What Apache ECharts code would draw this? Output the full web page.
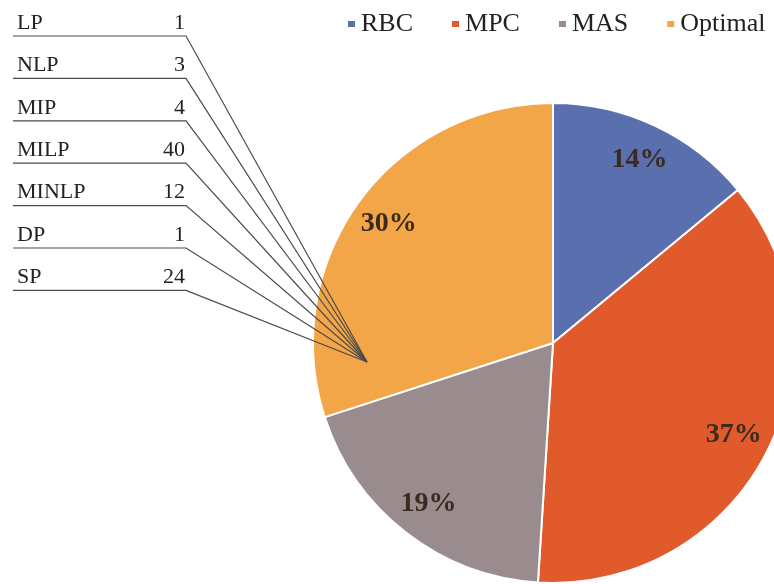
<!DOCTYPE html>
<html>
<head>
<meta charset="utf-8">
<script src="https://cdn.jsdelivr.net/npm/echarts@6/dist/echarts.min.js"></script>
<style>
  html, body { margin: 0; padding: 0; background: #fff; }
  #main { width: 774px; height: 584px; }
</style>
</head>
<body>
<div id="main"></div>
<script>
// controller share (%)
var shareNames = ['RBC', 'MPC', 'MAS', 'Optimal'];
var shareValues = [14, 37, 19, 30];
var shareColors = ['#5a6fae', '#e05a2b', '#9a8c8e', '#f2a648'];

// optimisation formulation counts
var formNames = ['LP', 'NLP', 'MIP', 'MILP', 'MINLP', 'DP', 'SP'];
var formCounts = [1, 3, 4, 40, 12, 1, 24];

var serif = 'Liberation Serif, Times New Roman, serif';
var hub = [367, 362];   // where the leader lines meet

var chart = echarts.init(document.getElementById('main'));

var shareData = shareNames.map(function (n, i) {
  return { name: n, value: shareValues[i], itemStyle: { color: shareColors[i] } };
});

var option = {
  animation: false,
  backgroundColor: '#fff',
  legend: {
    data: shareNames,
    top: 11,
    left: 346,
    width: 428,
    padding: 0,
    itemWidth: 9,
    itemHeight: 8,
    itemGap: 37,
    icon: 'rect',
    textStyle: { fontFamily: serif, fontSize: 26, color: '#222' }
  },
  series: [
    {
      // main pie
      type: 'pie',
      z: 1,
      center: [553, 343],
      radius: [0, 240],
      startAngle: 90,
      avoidLabelOverlap: false,
      label: { show: false },
      labelLine: { show: false },
      itemStyle: { borderColor: '#fff', borderWidth: 2 },
      data: shareData
    },
    {
      // transparent ring, only carries the % labels
      type: 'pie',
      z: 2,
      center: [553, 343],
      radius: [160, 240],
      startAngle: 90,
      silent: true,
      avoidLabelOverlap: false,
      itemStyle: { color: 'transparent' },
      label: {
        show: true,
        position: 'inside',
        formatter: '{c}%',
        fontFamily: serif,
        fontWeight: 'bold',
        fontSize: 28,
        color: '#3b2a1e'
      },
      labelLine: { show: false },
      data: shareNames.map(function (n, i) { return { name: n, value: shareValues[i] }; })
    },
    {
      // tiny pie at the hub, its labels form the table on the left
      type: 'pie',
      z: 5,
      center: hub,
      radius: [0, 1],
      silent: true,
      avoidLabelOverlap: false,
      itemStyle: { color: 'transparent' },
      label: {
        show: true,
        position: 'outside',
        formatter: '{n|{b}}{v|{c}}',
        rich: {
          n: { width: 140, align: 'left', fontFamily: serif, fontSize: 22, color: '#222' },
          v: { width: 28, align: 'right', fontFamily: serif, fontSize: 22, color: '#222' }
        }
      },
      labelLine: { show: true, lineStyle: { color: '#4a4a4a', width: 1.2 } },
      labelLayout: function (params) {
        var y = 36 + params.dataIndex * 42.4;
        return {
          x: 17,
          y: y - 2,
          align: 'left',
          verticalAlign: 'bottom',
          labelLinePoints: [[hub[0], hub[1]], [186, y], [13, y]]
        };
      },
      data: formNames.map(function (n, i) { return { name: n, value: formCounts[i] }; })
    }
  ]
};

chart.setOption(option);
</script>
</body>
</html>
